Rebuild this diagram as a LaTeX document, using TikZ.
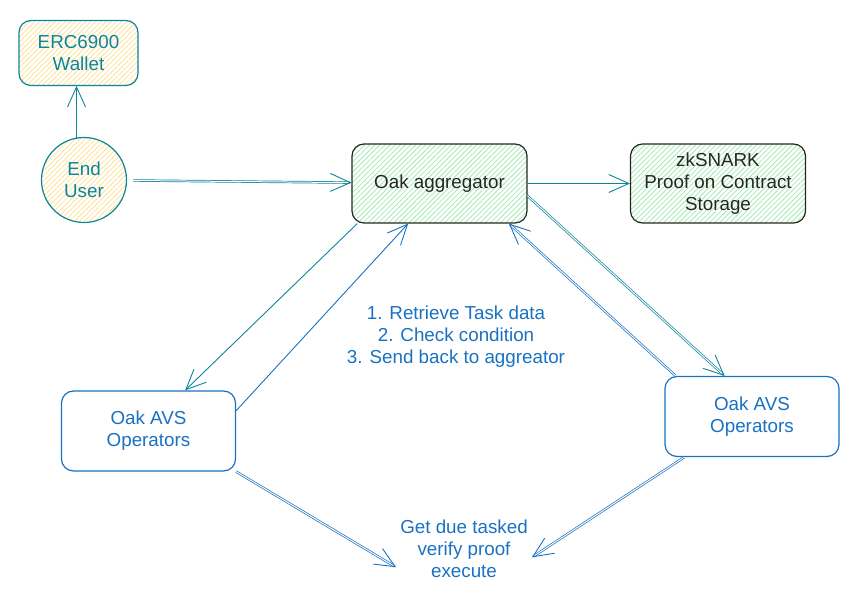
\documentclass[tikz,border=0pt]{standalone}
\usepackage{fontspec}
\setmainfont{Liberation Sans}
\usetikzlibrary{arrows.meta, patterns.meta}
\definecolor{tealline}{HTML}{0C8599}
\definecolor{blueline}{HTML}{1971C2}
\definecolor{greenhatch}{HTML}{A3EBAF}
\definecolor{yellowhatch}{HTML}{FFE194}
\tikzstyle{every node}=[font=\fontsize{18.8}{22}\selectfont, align=center, inner sep=4pt]
\tikzstyle{box}=[draw, rounded corners=12pt, line width=1.2pt, inner sep=0pt]
\tikzstyle{greenbox}=[box, draw=black!85, text=black!85, minimum width=175pt, minimum height=79pt,
    pattern={Lines[angle=45, distance=3.6pt, line width=0.8pt]}, pattern color=greenhatch]
\tikzstyle{yellowbox}=[box, draw=tealline, text=tealline,
    pattern={Lines[angle=45, distance=3.6pt, line width=0.8pt]}, pattern color=yellowhatch]
\tikzstyle{opbox}=[box, draw=blueline, text=blueline, fill=white, minimum width=174pt, minimum height=80pt]
\tikzstyle{note}=[text=blueline]
\tikzstyle{link}=[-{Straight Barb[length=20pt, width=18pt, line width=0.9pt]}, line width=0.9pt]
\tikzstyle{twin}=[link, double=white, double distance=1pt, line width=0.7pt]

\begin{document}
\begin{tikzpicture}[x=1pt, y=-1pt]
\useasboundingbox (0,0) rectangle (863,591);
% Boxes
    \node[yellowbox, minimum width=119pt, minimum height=65pt] (wallet) at (78.5,53) {ERC6900\\Wallet};
    \node[yellowbox, circle, minimum size=85pt] (user) at (84,180) {End\\User};
    \node[greenbox] (agg) at (439.5,183.5) {Oak aggregator};
    \node[greenbox] (proof) at (718,183.5) {zkSNARK\\Proof on Contract\\Storage};
    \node[opbox] (opleft) at (148.5,431) {Oak AVS\\Operators};
    \node[opbox] (opright) at (752,416.5) {Oak AVS\\Operators};
%Notes
    \node[note] (steps) at (456,337) {1. Retrieve Task data\\2. Check condition\\3. Send back to aggreator};
    \node[note] (tasks) at (464,549) {Get due tasked\\verify proof\\execute};
%Arrows from the user
    \draw[link, tealline] (user.100) -- (wallet.south -| user.100);
    \draw[twin, tealline, shorten <=6pt] (user) -- (agg);
    \draw[link, tealline] (agg.east) -- (proof.west);
%Aggregator and operators
    \draw[link, tealline] (agg.206) -- (opleft.48);
    \draw[link, blueline] (opleft.13) -- (agg.232);
    \draw[twin, tealline] (agg.-8) -- (opright.124);
    \draw[twin, blueline] (opright.152) -- (agg.-30);
%Operators to execution
    \draw[twin, blueline] (opleft.south east) -- (tasks.195);
    \draw[twin, blueline] (opright.211) -- (tasks.-7);
\end{tikzpicture}
\end{document}
